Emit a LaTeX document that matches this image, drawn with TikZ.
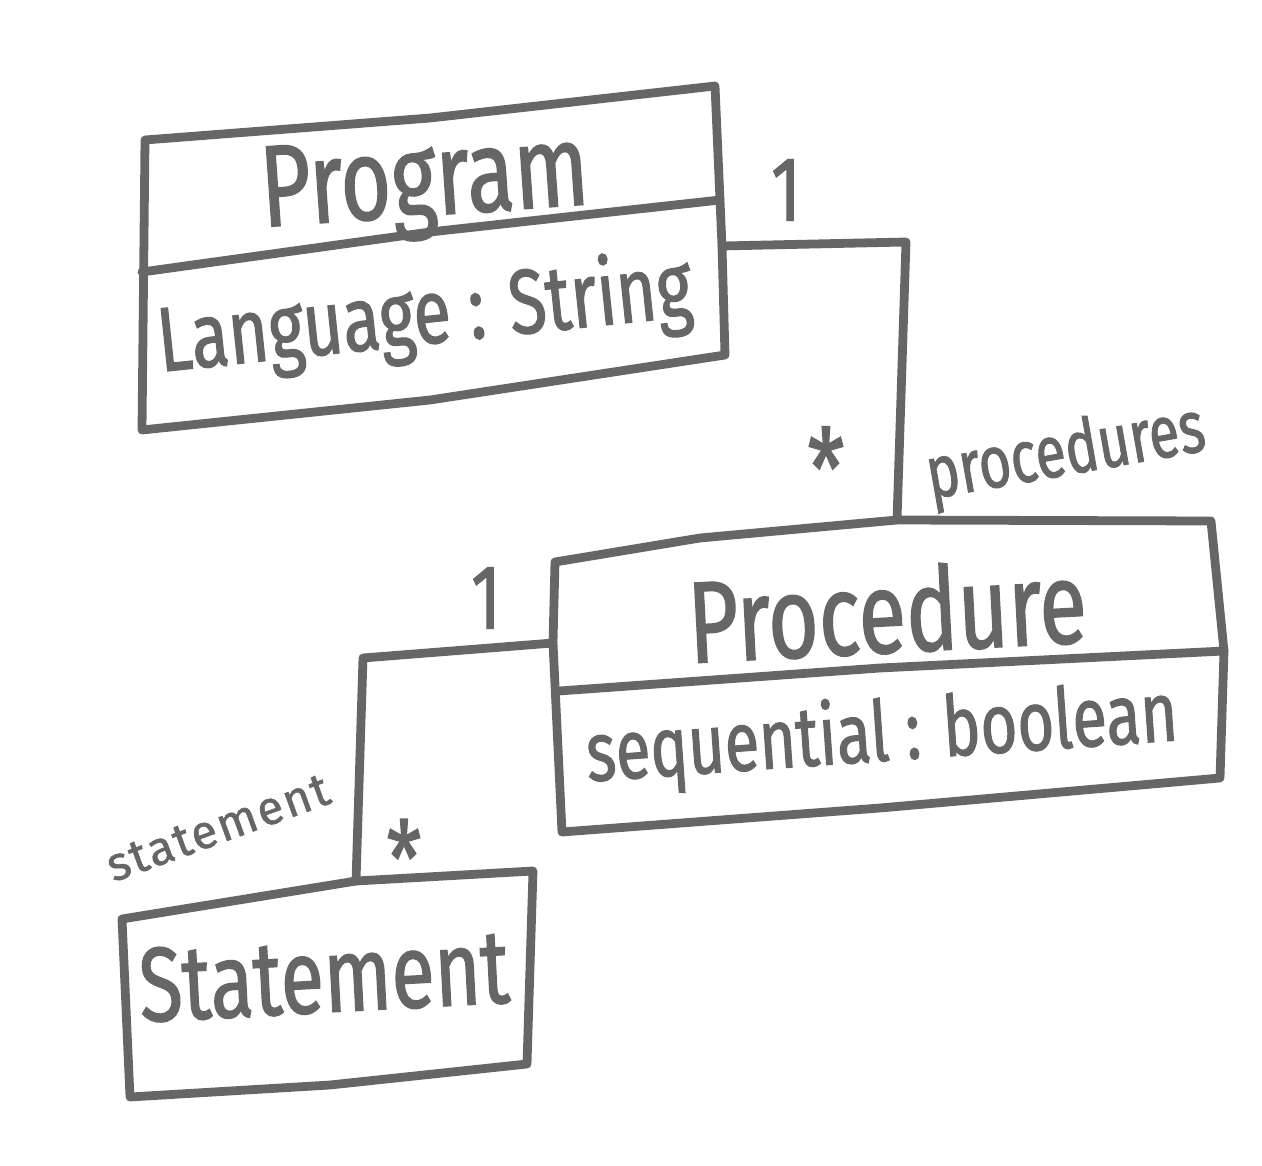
\documentclass[tikz,border=0pt]{standalone}
\usepackage{fontspec}
\newfontfamily\hand[FakeStretch=0.75,FakeBold=1.2]{Fira Sans}
\newfontfamily\handwide[FakeBold=1.0,LetterSpace=4]{Fira Sans}
\definecolor{ink}{HTML}{666666}
\begin{document}
\begin{tikzpicture}[x=0.02cm,y=-0.02cm,
  pen/.style={draw=ink, line width=5pt, line join=round, line cap=round},
  lbl/.style={text=ink, inner sep=0pt, font=\hand}]
\fill[white] (0,0) rectangle (1262,1166);
\useasboundingbox (0,0) rectangle (1262,1166);

% ---- Program class ----
\coordinate (pTL) at (145,140);
\coordinate (pTR) at (715,86);
\coordinate (pBR) at (725,355);
\coordinate (pBL) at (142,430);
\coordinate (pDL) at (142,272);
\coordinate (pDR) at (720,200);
\coordinate (pR)  at (722,246);
\draw[pen] (pTL) -- (430,118) -- (pTR) -- (pR) -- (pBR) -- (430,400) -- (pBL) -- cycle;
\draw[pen] (pDL) -- (430,232) -- (pDR);
\node[lbl, font=\hand\fontsize{66}{66}\selectfont, rotate=4] (progname) at (425,188) {Program};
\node[lbl, font=\hand\fontsize{52}{52}\selectfont, rotate=6] (progattr) at (425,318) {Language : String};

% ---- Procedure class ----
\coordinate (qTL) at (555,562);
\coordinate (qTR) at (1211,521);
\coordinate (qBR) at (1220,778);
\coordinate (qBL) at (562,832);
\coordinate (qDL) at (559,691);
\coordinate (qDR) at (1224,651);
\coordinate (qT)  at (897,520);
\coordinate (qL)  at (553,643);
\draw[pen] (qTL) -- (qL) -- (qBL) -- (880,808) -- (qBR) -- (qDR) -- (qTR) -- (qT) -- (700,538) -- cycle;
\draw[pen] (qDL) -- (880,668) -- (qDR);
\node[lbl, font=\hand\fontsize{66}{66}\selectfont, rotate=3] (procname) at (887,610) {Procedure};
\node[lbl, font=\hand\fontsize{48}{48}\selectfont, rotate=4] (procattr) at (882,737) {sequential : boolean};

% ---- Statement class ----
\coordinate (sTL) at (122,919);
\coordinate (sTR) at (533,871);
\coordinate (sBR) at (527,1064);
\coordinate (sBL) at (130,1097);
\coordinate (sT)  at (356,881);
\draw[pen] (sTL) -- (sT) -- (sTR) -- (sBR) -- (330,1085) -- (sBL) -- cycle;
\node[lbl, font=\hand\fontsize{60}{60}\selectfont, rotate=3] (stmtname) at (324,976) {Statement};

% ---- connectors ----
\draw[pen] (pR) -- (906,242) -- (qT);
\draw[pen] (qL) -- (363,658) -- (sT);

% ---- association labels ----
\node[lbl, font=\hand\fontsize{52}{52}\selectfont] (m1) at (786,190) {1};
\node[lbl, font=\hand\fontsize{64}{64}\selectfont] (m2) at (826,468) {*};
\node[lbl, font=\hand\fontsize{42}{42}\selectfont, rotate=10] (rproc) at (1066,455) {procedures};
\node[lbl, font=\hand\fontsize{52}{52}\selectfont] (m3) at (486,598) {1};
\node[lbl, font=\hand\fontsize{60}{60}\selectfont] (m4) at (404,858) {*};
\node[lbl, font=\handwide\fontsize{27}{27}\selectfont, rotate=20] (rstmt) at (218,828) {statement};
\end{tikzpicture}
\end{document}
